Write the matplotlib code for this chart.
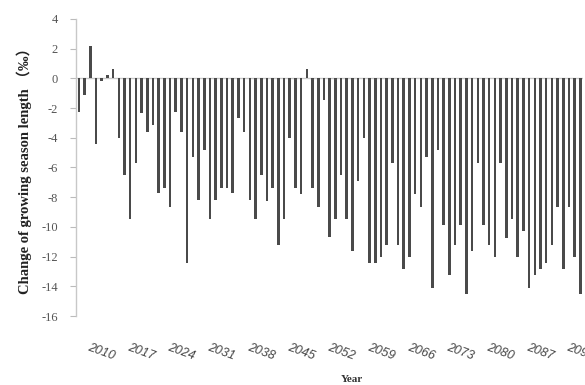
import matplotlib
matplotlib.use("Agg")
import matplotlib.pyplot as plt
import numpy as np

years = list(range(2006, 2095))
values = [
    -2.25, -1.1, 2.2, -4.4, -0.15, 0.2, 0.6, -4.0, -6.5, -9.5,
    -5.7, -2.35, -3.6, -3.15, -7.75, -7.4, -8.65, -2.3, -3.6, -12.4,
    -5.3, -8.2, -4.85, -9.5, -8.2, -7.4, -7.4, -7.75, -2.7, -3.6,
    -8.2, -9.5, -6.5, -8.25, -7.4, -11.25, -9.5, -4.0, -7.4, -7.8,
    0.6, -7.4, -8.65, -1.45, -10.7, -9.5, -6.5, -9.5, -11.6, -6.9,
    -4.0, -12.4, -12.4, -12.0, -11.2, -5.7, -11.2, -12.8, -12.0, -7.8,
    -8.65, -5.3, -14.1, -4.85, -9.9, -13.25, -11.2, -9.9, -14.5, -11.6,
    -5.7, -9.9, -11.2, -12.0, -5.7, -10.75, -9.5, -12.0, -10.3, -14.1,
    -13.25, -12.8, -12.4, -11.2, -8.65, -12.8, -8.65, -12.0, -14.5,
]
tick_years = list(range(2010, 2095, 7))
y_ticks = list(range(-16, 5, 2))

fig = plt.figure(figsize=(5.85, 3.85), dpi=100)
ax = fig.add_axes([0.130, 0.179, 0.867, 0.772])

x = np.arange(len(years))
ax.bar(x, values, width=0.45, color="#4a4a4a", edgecolor="none", zorder=3)
ax.axhline(0, color="#c8c8c8", lw=1.0, zorder=2)

ax.set_xlim(-0.5, len(years) - 0.5)
ax.set_ylim(-16, 4)
ax.set_yticks(y_ticks)
ax.set_yticklabels([str(v) for v in y_ticks], family="Liberation Serif",
                   fontsize=9, color="#555555")
tick_pos = [years.index(t) for t in tick_years]
ax.set_xticks(tick_pos)
ax.set_xticklabels([str(t) for t in tick_years], rotation=-20,
                   fontsize=9, color="#444444", family="Liberation Sans",
                   style="italic", ha="center", rotation_mode="default")
ax.tick_params(axis="x", length=0, pad=18)
ax.tick_params(axis="y", length=4, width=0.8, color="#bbbbbb", pad=9)

for s in ["top", "right", "bottom"]:
    ax.spines[s].set_visible(False)
ax.spines["left"].set_color("#c8c8c8")
ax.spines["left"].set_linewidth(1.0)

ax.set_ylabel("Change of growing season length \uff08\u2030\uff09",
              family=["Liberation Serif", "Noto Sans CJK SC"], fontweight="bold",
              fontsize=10.5, color="#222222", labelpad=7)
fig.text(352 / 585, 1 - 380 / 385, "Year", family="Liberation Serif",
         fontweight="bold", fontsize=8, color="#333333", ha="center", va="center")

fig.savefig("out.png", dpi=100)
